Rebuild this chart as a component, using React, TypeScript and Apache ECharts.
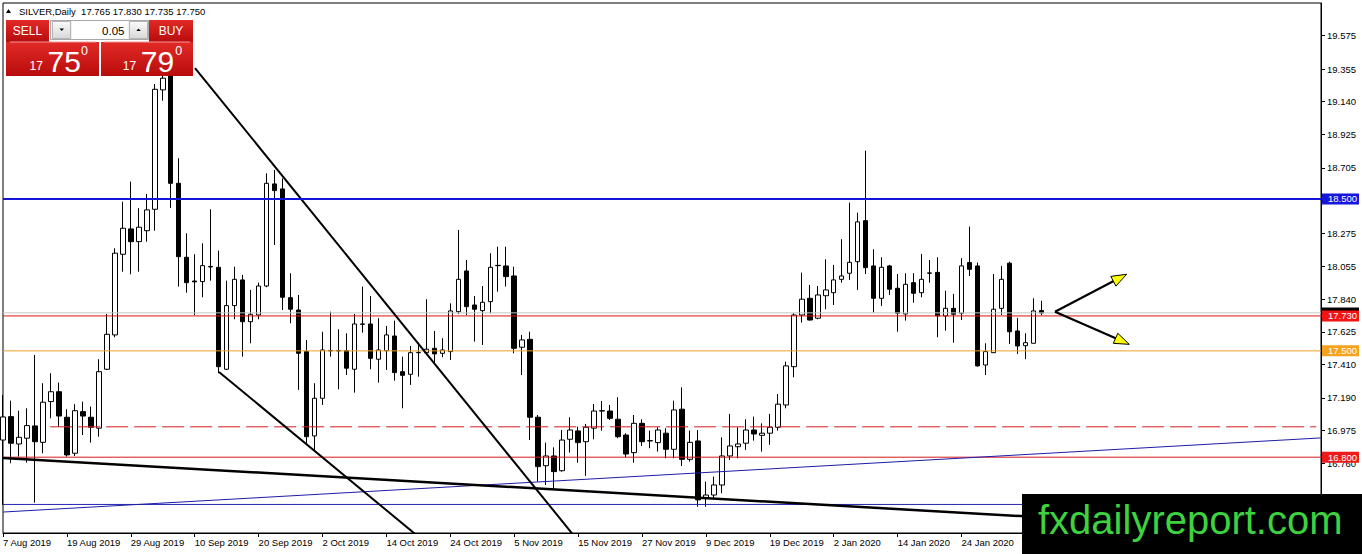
import React, { useEffect, useRef } from 'react';
import * as echarts from 'echarts';

const DATES = [
  '7 Aug 2019','8 Aug 2019','9 Aug 2019','12 Aug 2019','13 Aug 2019','14 Aug 2019','15 Aug 2019','16 Aug 2019','19 Aug 2019','20 Aug 2019','21 Aug 2019','22 Aug 2019','23 Aug 2019','26 Aug 2019','27 Aug 2019','28 Aug 2019','29 Aug 2019','30 Aug 2019',
  '2 Sep 2019','3 Sep 2019','4 Sep 2019','5 Sep 2019','6 Sep 2019','9 Sep 2019','10 Sep 2019','11 Sep 2019','12 Sep 2019','13 Sep 2019','16 Sep 2019','17 Sep 2019','18 Sep 2019','19 Sep 2019','20 Sep 2019','23 Sep 2019','24 Sep 2019','25 Sep 2019','26 Sep 2019','27 Sep 2019','30 Sep 2019',
  '1 Oct 2019','2 Oct 2019','3 Oct 2019','4 Oct 2019','7 Oct 2019','8 Oct 2019','9 Oct 2019','10 Oct 2019','11 Oct 2019','14 Oct 2019','15 Oct 2019','16 Oct 2019','17 Oct 2019','18 Oct 2019','21 Oct 2019','22 Oct 2019','23 Oct 2019','24 Oct 2019','25 Oct 2019','28 Oct 2019','29 Oct 2019','30 Oct 2019','31 Oct 2019',
  '1 Nov 2019','4 Nov 2019','5 Nov 2019','6 Nov 2019','7 Nov 2019','8 Nov 2019','11 Nov 2019','12 Nov 2019','13 Nov 2019','14 Nov 2019','15 Nov 2019','18 Nov 2019','19 Nov 2019','20 Nov 2019','21 Nov 2019','22 Nov 2019','25 Nov 2019','26 Nov 2019','27 Nov 2019','28 Nov 2019','29 Nov 2019',
  '2 Dec 2019','3 Dec 2019','4 Dec 2019','5 Dec 2019','6 Dec 2019','9 Dec 2019','10 Dec 2019','11 Dec 2019','12 Dec 2019','13 Dec 2019','16 Dec 2019','17 Dec 2019','18 Dec 2019','19 Dec 2019','20 Dec 2019','23 Dec 2019','24 Dec 2019','26 Dec 2019','27 Dec 2019','30 Dec 2019','31 Dec 2019',
  '2 Jan 2020','3 Jan 2020','6 Jan 2020','7 Jan 2020','8 Jan 2020','9 Jan 2020','10 Jan 2020','13 Jan 2020','14 Jan 2020','15 Jan 2020','16 Jan 2020','17 Jan 2020','20 Jan 2020','21 Jan 2020','22 Jan 2020','23 Jan 2020','24 Jan 2020','27 Jan 2020','28 Jan 2020','29 Jan 2020','30 Jan 2020','31 Jan 2020',
  '3 Feb 2020','4 Feb 2020','5 Feb 2020','6 Feb 2020','7 Feb 2020',
];
const EMPTY_SLOTS = 35;
const LAST_VISIBLE_LABEL = 120; // labels further right sit under the watermark

const OPEN = [
  16.913,17.067,16.887,16.925,17.006,16.898,17.166,17.231,17.063,16.826,
  17.100,17.063,16.991,17.379,17.605,18.136,18.303,18.219,18.291,18.432,
  19.218,19.336,18.603,18.116,17.960,17.956,18.052,18.050,17.379,17.798,
  17.967,17.692,17.736,17.927,18.599,18.566,17.850,17.769,17.495,16.940,
  17.188,17.500,17.502,17.501,17.379,17.677,17.677,17.445,17.501,17.598,
  17.363,17.346,17.488,17.488,17.517,17.484,17.495,17.758,18.026,17.802,
  17.765,17.824,18.061,18.059,17.993,17.524,17.576,17.063,16.744,16.808,
  16.711,16.918,16.973,16.902,16.991,17.104,17.104,17.050,16.946,16.830,
  17.023,16.909,16.896,16.958,16.852,17.116,16.786,16.907,16.530,16.551,
  16.617,16.808,16.869,16.892,16.979,16.944,16.958,16.997,17.144,17.396,
  17.736,17.846,17.715,17.863,17.883,17.971,18.011,18.087,18.357,18.059,
  17.846,18.059,17.912,17.743,17.949,17.883,18.011,18.017,17.730,17.780,
  17.748,18.081,18.059,17.407,17.488,17.780,18.077,17.631,17.534,17.550,
  17.765,
];
const CLOSE = [
  17.065,16.892,16.931,17.008,16.902,17.162,17.231,17.071,16.815,17.106,
  17.071,16.997,17.363,17.609,18.143,18.307,18.219,18.314,18.428,19.222,
  19.295,18.603,18.120,17.949,17.954,18.061,18.056,17.396,17.798,17.971,
  17.692,17.741,17.927,18.603,18.555,17.853,17.774,17.484,16.935,17.188,
  17.506,17.503,17.500,17.386,17.677,17.675,17.451,17.506,17.605,17.357,
  17.339,17.488,17.490,17.511,17.480,17.506,17.763,17.971,17.791,17.774,
  17.820,18.050,18.063,17.989,17.517,17.572,17.063,16.738,16.808,16.705,
  16.913,16.979,16.896,16.997,17.104,17.106,17.056,16.935,16.821,17.023,
  16.902,16.907,16.979,16.852,17.111,16.786,16.898,16.519,16.551,16.617,
  16.808,16.874,16.887,16.979,16.953,16.958,16.997,17.149,17.401,17.736,
  17.840,17.703,17.868,17.901,17.967,17.993,18.083,18.349,18.048,17.846,
  18.050,17.906,17.748,17.938,17.879,17.971,18.013,17.730,17.780,17.741,
  18.059,18.037,17.401,17.495,17.774,17.971,17.626,17.532,17.554,17.763,
  17.750,
];
const LOW = [
  16.486,16.760,16.804,16.764,16.501,16.826,17.056,17.001,16.804,16.808,
  16.946,16.896,16.935,17.374,17.590,18.021,18.004,18.021,18.219,18.291,
  19.147,18.441,17.923,17.883,17.736,17.853,17.962,17.353,17.374,17.708,
  17.462,17.550,17.708,17.919,18.197,17.769,17.682,17.243,16.881,16.848,
  17.144,17.462,17.247,17.341,17.225,17.620,17.379,17.291,17.374,17.304,
  17.122,17.276,17.330,17.473,17.418,17.458,17.440,17.743,17.736,17.561,
  17.539,17.748,17.890,17.923,17.484,17.341,16.913,16.639,16.617,16.589,
  16.705,16.830,16.764,16.677,16.918,16.975,17.045,16.925,16.800,16.764,
  16.874,16.859,16.837,16.793,16.793,16.742,16.771,16.474,16.474,16.530,
  16.563,16.782,16.793,16.848,16.909,16.837,16.881,16.975,17.122,17.326,
  17.686,17.699,17.708,17.774,17.802,17.949,17.967,17.901,18.006,17.752,
  17.796,17.868,17.626,17.699,17.817,17.853,17.949,17.590,17.633,17.554,
  17.703,17.993,17.396,17.341,17.486,17.736,17.546,17.480,17.445,17.549,
  17.735,
];
const HIGH = [
  17.210,17.172,17.106,17.122,17.473,17.287,17.353,17.291,17.116,17.149,
  17.166,17.133,17.445,17.743,18.175,18.482,18.614,18.439,18.533,19.257,
  19.349,19.402,18.768,18.274,18.136,18.208,18.432,18.160,17.962,18.054,
  18.000,17.901,17.949,18.669,18.691,18.636,18.011,17.868,17.572,17.287,
  17.626,17.758,17.642,17.616,17.743,17.923,17.861,17.715,17.664,17.699,
  17.462,17.532,17.550,17.840,17.631,17.583,17.813,18.296,18.098,17.861,
  17.927,18.143,18.186,18.186,18.054,17.605,17.626,17.078,16.896,16.865,
  16.979,17.063,17.001,17.019,17.150,17.170,17.144,17.195,16.958,17.078,
  17.050,16.975,16.997,16.991,17.172,17.260,16.975,16.979,16.639,16.672,
  16.931,17.085,16.997,17.050,17.067,17.023,17.085,17.216,17.429,17.748,
  18.015,17.934,17.927,18.103,18.066,18.235,18.476,18.410,18.818,18.169,
  18.116,18.066,18.006,18.011,18.011,18.138,18.098,18.116,17.896,17.875,
  18.110,18.318,18.081,17.550,18.006,18.059,18.087,17.717,17.616,17.846,
  17.830,
];

const Y_TICKS = [19.575, 19.355, 19.14, 18.925, 18.705, 18.49, 18.275, 18.055, 17.84, 17.625, 17.41, 17.19, 16.975, 16.76, 16.54];
const Y_LABELS = [19.575, 19.355, 19.14, 18.925, 18.705, 18.275, 18.055, 17.84, 17.625, 17.41, 17.19, 16.975, 16.76, 16.54];
const Y_MIN = 16.301;
const Y_MAX = 19.79;

const LEVEL_RESISTANCE = 18.5;
const LEVEL_BID = 17.75;
const LEVEL_PIVOT = 17.73;
const LEVEL_SUPPORT = 17.5;
const LEVEL_DASHED = 17.0;
const LEVEL_LOW = 16.8;
const LEVEL_BLUE_FLAT = 16.489;

// trend lines as [slotIndex, price] pairs
const CHANNEL_UPPER = [[24.04, 19.362], [72, 16.249]];
const CHANNEL_LOWER = [[27.04, 17.361], [52, 16.277]];
const BLUE_TREND = [[0, 16.439], [165, 16.927]];
const BLACK_TREND = [[0, 16.795], [165, 16.299]];
const DASHED_RANGE = [5.9, 164.4];
// arrows: [x0, y0, x1, y1]
const ARROWS = [
  [131.7, 17.758, 140.67, 18.004],
  [131.7, 17.758, 141.0, 17.543],
];

const HEADER = 'SILVER,Daily  17.765 17.830 17.735 17.750';
const FONT = 'Liberation Sans';

function lineSeries(data: number[][], color: string, width: number, type: any = 'solid', z = 3) {
  return {
    type: 'line',
    xAxisIndex: 1,
    yAxisIndex: 0,
    data,
    symbol: 'none',
    silent: true,
    clip: true,
    z,
    lineStyle: { color, width, type },
  };
}

export default function App() {
  const ref = useRef<HTMLDivElement>(null);

  useEffect(() => {
    const chart = echarts.init(ref.current!, undefined, { renderer: 'svg' });
    const categories = DATES.concat(new Array(EMPTY_SLOTS).fill(''));
    const candles = OPEN.map((o, i) => [o, CLOSE[i], LOW[i], HIGH[i]]);
    const full = (p: number) => [[0, p], [165, p]];

    const option: any = {
      animation: false,
      backgroundColor: '#ffffff',
      textStyle: { fontFamily: FONT },
      grid: {
        left: 3, top: 3, width: 1318, height: 530,
        show: true, borderColor: '#000', borderWidth: 1, backgroundColor: '#fff',
      },
      xAxis: [
        {
          type: 'category',
          data: categories,
          boundaryGap: false,
          axisLine: { show: true, onZero: false, lineStyle: { color: '#000', width: 1 } },
          axisTick: { show: true, interval: (i: number) => i % 8 === 0 && i <= LAST_VISIBLE_LABEL, length: 4, lineStyle: { color: '#000' } },
          axisLabel: {
            interval: (i: number) => i % 8 === 0 && i <= LAST_VISIBLE_LABEL,
            align: 'left', margin: 4, color: '#000',
            fontFamily: FONT, fontSize: 9.5,
          },
          splitLine: { show: false },
        },
        { type: 'value', min: 0, max: 165, show: false, position: 'top', axisLine: { onZero: false } },
      ],
      yAxis: {
        type: 'value',
        position: 'right',
        min: Y_MIN,
        max: Y_MAX,
        axisLine: { show: true, onZero: false, lineStyle: { color: '#000', width: 1 } },
        axisTick: { show: true, length: 4, customValues: Y_TICKS, lineStyle: { color: '#000' } },
        axisLabel: {
          customValues: Y_LABELS,
          formatter: (v: number) => v.toFixed(3),
          margin: 6, color: '#000', fontFamily: FONT, fontSize: 9.5,
        },
        splitLine: { show: false },
      },
      series: [
        {
          type: 'candlestick',
          xAxisIndex: 0,
          yAxisIndex: 0,
          data: candles,
          barWidth: 5,
          silent: true,
          z: 2,
          itemStyle: {
            color: '#ffffff', color0: '#000000',
            borderColor: '#000000', borderColor0: '#000000', borderColorDoji: '#000000',
            borderWidth: 1,
          },
        },
        lineSeries(full(LEVEL_BID), '#c4c4c4', 1),
        lineSeries(full(LEVEL_PIVOT), '#e01414', 1),
        lineSeries(full(LEVEL_SUPPORT), '#eba12c', 1),
        lineSeries([[DASHED_RANGE[0], LEVEL_DASHED], [DASHED_RANGE[1], LEVEL_DASHED]], '#d41c1c', 1, [22, 6]),
        lineSeries(full(LEVEL_LOW), '#d81818', 1),
        lineSeries(full(LEVEL_BLUE_FLAT), '#2222b4', 1),
        lineSeries(BLUE_TREND, '#1c1ca8', 1),
        lineSeries(BLACK_TREND, '#000000', 2.5),
        lineSeries(CHANNEL_UPPER, '#000000', 2),
        lineSeries(CHANNEL_LOWER, '#000000', 2),
        lineSeries(full(LEVEL_RESISTANCE), '#1414d8', 2, 'solid', 4),
        {
          type: 'custom',
          xAxisIndex: 1,
          yAxisIndex: 0,
          data: ARROWS,
          silent: true,
          z: 6,
          renderItem: (params: any, api: any) => {
            const p0 = api.coord([api.value(0), api.value(1)]);
            const p1 = api.coord([api.value(2), api.value(3)]);
            const dx = p1[0] - p0[0];
            const dy = p1[1] - p0[1];
            const len = Math.hypot(dx, dy) || 1;
            const ux = dx / len;
            const uy = dy / len;
            const hl = 15;
            const hw = 5.5;
            const bx = p1[0] - ux * hl;
            const by = p1[1] - uy * hl;
            return {
              type: 'group',
              children: [
                { type: 'line', shape: { x1: p0[0], y1: p0[1], x2: bx + ux * 2, y2: by + uy * 2 }, style: { stroke: '#000', lineWidth: 2.2 } },
                {
                  type: 'polygon',
                  shape: { points: [[p1[0], p1[1]], [bx - uy * hw, by + ux * hw], [bx + uy * hw, by - ux * hw]] },
                  style: { fill: '#ffff00', stroke: '#000', lineWidth: 1 },
                },
              ],
            };
          },
        },
      ],
    };

    chart.setOption(option);

    const py = (v: number) => chart.convertToPixel({ yAxisIndex: 0 }, v) as number;
    const boxRect = (v: number, fill: string, z: number) =>
      ({ type: 'rect', z, shape: { x: 1322, y: py(v) - 5.5, width: 37, height: 11 }, style: { fill } });
    const priceBox = (v: number, fill: string, z: number) => [
      boxRect(v, fill, z),
      {
        type: 'text', z: z + 1, x: 1328, y: py(v),
        style: { text: v.toFixed(3), fill: '#fff', fontSize: 9.5, fontFamily: FONT, verticalAlign: 'middle', align: 'left' },
      },
    ];

    const red = () => new echarts.graphic.LinearGradient(0, 0, 0, 1, [
      { offset: 0, color: '#e22a26' },
      { offset: 1, color: '#b70c0c' },
    ]);
    const grey = () => new echarts.graphic.LinearGradient(0, 0, 0, 1, [
      { offset: 0, color: '#fafafa' },
      { offset: 1, color: '#d8d8d8' },
    ]);
    const white = (text: string, x: number, y: number, size: number, align = 'center') => ({
      type: 'text', z: 110, x, y,
      style: { text, fill: '#fff', fontSize: size, fontFamily: FONT, align, verticalAlign: 'middle' },
    });

    const graphics: any[] = [
      ...priceBox(LEVEL_RESISTANCE, '#1515dc', 100),
      boxRect(LEVEL_BID, '#000000', 100),
      ...priceBox(LEVEL_PIVOT, '#f01414', 102),
      ...priceBox(LEVEL_SUPPORT, '#f5a21e', 100),
      ...priceBox(LEVEL_LOW, '#ee1a1a', 100),
      // header
      { type: 'polygon', z: 100, shape: { points: [[6, 13], [8.5, 9], [11, 13]] }, style: { fill: '#000' } },
      {
        type: 'text', z: 100, x: 19, y: 11,
        style: { text: HEADER, fill: '#000', fontSize: 9.5, fontFamily: FONT, verticalAlign: 'middle' },
      },
      // one-click trading panel
      { type: 'rect', z: 100, shape: { x: 6, y: 20, width: 43, height: 22 }, style: { fill: red() } },
      { type: 'rect', z: 100, shape: { x: 149, y: 20, width: 44, height: 22 }, style: { fill: red() } },
      { type: 'rect', z: 100, shape: { x: 6, y: 42, width: 93, height: 34 }, style: { fill: red() } },
      { type: 'rect', z: 100, shape: { x: 101, y: 42, width: 92, height: 34 }, style: { fill: red() } },
      { type: 'line', z: 105, shape: { x1: 10, y1: 42, x2: 96, y2: 42 }, style: { stroke: '#f29a9a', lineWidth: 1 } },
      { type: 'line', z: 105, shape: { x1: 104, y1: 42, x2: 190, y2: 42 }, style: { stroke: '#f29a9a', lineWidth: 1 } },
      { type: 'rect', z: 100, shape: { x: 50.5, y: 20.5, width: 98, height: 19 }, style: { fill: '#f0f0f0', stroke: '#a8a8a8', lineWidth: 1 } },
      { type: 'rect', z: 101, shape: { x: 52.5, y: 21.5, width: 18, height: 17 }, style: { fill: grey(), stroke: '#b4b4b4', lineWidth: 1 } },
      { type: 'rect', z: 101, shape: { x: 72, y: 21, width: 56, height: 18 }, style: { fill: '#ffffff' } },
      { type: 'rect', z: 101, shape: { x: 129.5, y: 21.5, width: 18, height: 17 }, style: { fill: grey(), stroke: '#b4b4b4', lineWidth: 1 } },
      { type: 'polygon', z: 102, shape: { points: [[59.5, 28.5], [64, 28.5], [61.75, 31]] }, style: { fill: '#000' } },
      { type: 'polygon', z: 102, shape: { points: [[136.3, 31], [140.8, 31], [138.55, 28.5]] }, style: { fill: '#000' } },
      {
        type: 'text', z: 102, x: 124.5, y: 31,
        style: { text: '0.05', fill: '#000', fontSize: 11.5, fontFamily: FONT, align: 'right', verticalAlign: 'middle' },
      },
      white('SELL', 27.5, 31, 12),
      white('BUY', 171, 31, 12),
      white('17', 36.2, 66, 12),
      white('75', 64.2, 61, 30),
      white('0', 84.5, 51, 12.5),
      white('17', 129.5, 66, 12),
      white('79', 157.5, 61, 30),
      white('0', 178.8, 51, 12.5),
      // watermark
      { type: 'rect', z: 120, shape: { x: 1022, y: 494, width: 340, height: 60 }, style: { fill: '#000' } },
      {
        type: 'text', z: 121, x: 1038, y: 519.5,
        style: { text: 'fxdailyreport.com', fill: '#3ed23e', fontSize: 40, fontFamily: FONT, verticalAlign: 'middle' },
      },
    ];

    chart.setOption({ graphic: graphics });

    return () => chart.dispose();
  }, []);

  return (
    <div
      ref={ref}
      style={{ position: 'fixed', left: 0, top: 0, width: 1362, height: 554, background: '#fff' }}
    />
  );
}
